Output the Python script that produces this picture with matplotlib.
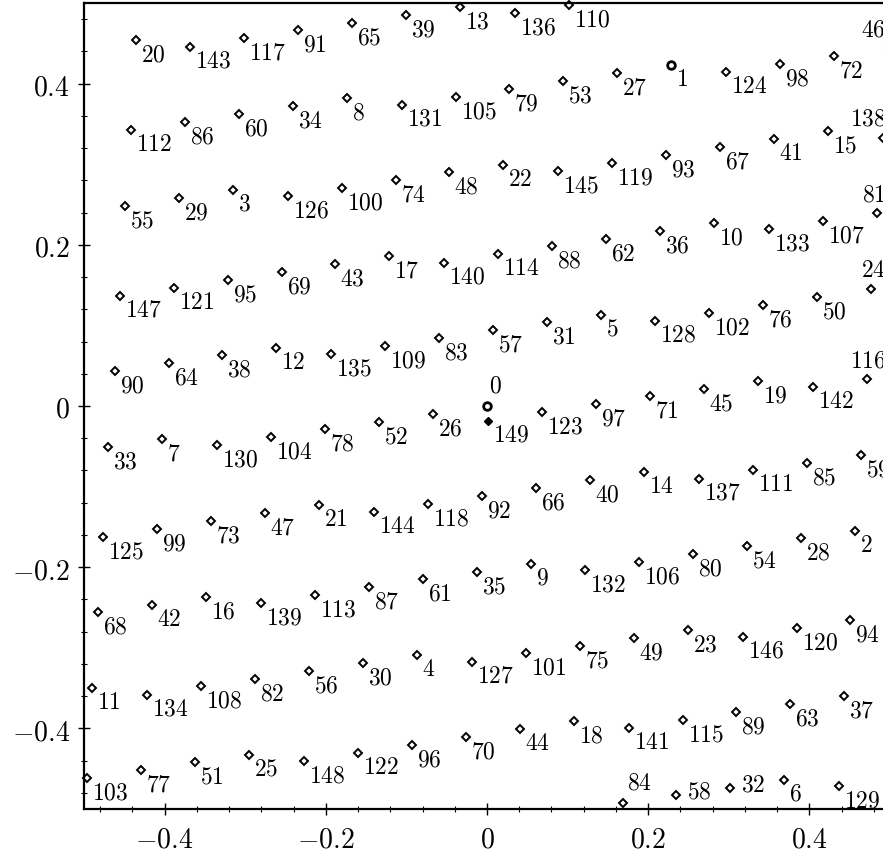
import matplotlib
matplotlib.use("Agg")
import matplotlib.pyplot as plt
from matplotlib.ticker import MultipleLocator

plt.rcParams["mathtext.fontset"] = "cm"

# point coordinates, index = point label
xs = [0.0, 0.228, 0.456, -0.315, -0.087, 0.141, 0.369, -0.403, -0.174, 0.054,
      0.282, -0.490, -0.262, -0.033, 0.195, 0.423, -0.349, -0.121, 0.108, 0.336,
      -0.436, -0.208, 0.020, 0.249, 0.477, -0.295, -0.067, 0.161, 0.390, -0.382,
      -0.154, 0.074, 0.302, -0.470, -0.241, -0.013, 0.215, 0.443, -0.329, -0.100,
      0.128, 0.356, -0.416, -0.188, 0.041, 0.269, 0.497, -0.275, -0.047, 0.182,
      0.410, -0.362, -0.134, 0.094, 0.323, -0.449, -0.221, 0.007, 0.235, 0.464,
      -0.308, -0.080, 0.148, 0.376, -0.395, -0.167, 0.061, 0.289, -0.483, -0.254,
      -0.026, 0.202, 0.430, -0.342, -0.113, 0.115, 0.343, -0.429, -0.201, 0.027,
      0.256, 0.484, -0.288, -0.060, 0.169, 0.397, -0.375, -0.147, 0.081, 0.309,
      -0.462, -0.234, -0.006, 0.222, 0.450, -0.321, -0.093, 0.135, 0.363, -0.409,
      -0.180, 0.048, 0.276, -0.496, -0.268, -0.039, 0.189, 0.417, -0.355, -0.127,
      0.102, 0.330, -0.442, -0.214, 0.014, 0.243, 0.471, -0.301, -0.073, 0.155,
      0.384, -0.388, -0.160, 0.068, 0.296, -0.476, -0.247, -0.019, 0.209, 0.437,
      -0.335, -0.106, 0.122, 0.350, -0.422, -0.194, 0.035, 0.263, 0.491, -0.281,
      -0.053, 0.176, 0.404, -0.368, -0.140, 0.088, 0.317, -0.455, -0.227, 0.001]

ys = [0.0, 0.423, -0.155, 0.268, -0.309, 0.113, -0.464, -0.041, 0.382, -0.196,
      0.227, -0.350, 0.072, 0.495, -0.082, 0.341, -0.237, 0.186, -0.391, 0.031,
      0.454, -0.123, 0.299, -0.278, 0.145, -0.433, -0.010, 0.413, -0.164, 0.258,
      -0.319, 0.104, -0.474, -0.051, 0.372, -0.206, 0.217, -0.360, 0.063, 0.485,
      -0.092, 0.331, -0.247, 0.176, -0.401, 0.021, 0.444, -0.133, 0.290, -0.288,
      0.135, -0.442, -0.020, 0.403, -0.174, 0.248, -0.329, 0.094, -0.483, -0.061,
      0.362, -0.215, 0.207, -0.370, 0.053, 0.475, -0.102, 0.321, -0.256, 0.166,
      -0.411, 0.012, 0.434, -0.143, 0.280, -0.298, 0.125, -0.452, -0.029, 0.393,
      -0.184, 0.239, -0.339, 0.084, -0.493, -0.071, 0.352, -0.225, 0.198, -0.380,
      0.043, 0.466, -0.112, 0.311, -0.266, 0.156, -0.421, 0.002, 0.424, -0.153,
      0.270, -0.307, 0.115, -0.462, -0.039, 0.383, -0.194, 0.229, -0.348, 0.074,
      0.497, -0.080, 0.342, -0.235, 0.188, -0.390, 0.033, 0.456, -0.122, 0.301,
      -0.276, 0.147, -0.431, -0.008, 0.415, -0.163, 0.260, -0.317, 0.106, -0.472,
      -0.049, 0.374, -0.204, 0.219, -0.358, 0.064, 0.487, -0.090, 0.333, -0.245,
      0.178, -0.399, 0.023, 0.446, -0.131, 0.291, -0.286, 0.137, -0.441, -0.018]

labels = list(range(len(xs)))
circle_pts = [0, 1]
filled_pts = [149]
edge_labels = [46, 138, 81, 24, 116]   # labels pushed left, above the point

tick_vals = [-0.4, -0.2, 0, 0.2, 0.4]
tick_text = [r"$-0.4$", r"$-0.2$", r"$0$", r"$0.2$", r"$0.4$"]

fig = plt.figure(figsize=(8.83, 8.54), dpi=100)
ax = fig.add_axes([84 / 883, 44 / 854, 806 / 883, 806 / 854])
ax.set_xlim(-0.5, 0.5)
ax.set_ylim(-0.5, 0.5)

diamond = [i for i in labels if i not in circle_pts and i not in filled_pts]
ax.plot([xs[i] for i in diamond], [ys[i] for i in diamond], "D", ms=3.8,
        mfc="white", mec="black", mew=1.4, clip_on=False)
ax.plot([xs[i] for i in circle_pts], [ys[i] for i in circle_pts], "o", ms=5.5,
        mfc="white", mec="black", mew=2.0)
ax.plot([xs[i] for i in filled_pts], [ys[i] for i in filled_pts], "D", ms=4.5,
        mfc="black", mec="black")

fs = 17
for i in labels:
    s = r"$%d$" % i
    if i == 0:
        ax.annotate(s, (xs[i], ys[i]), xytext=(2, 9), textcoords="offset pixels",
                    ha="left", va="bottom", fontsize=fs)
    elif i == 84:
        ax.annotate(s, (xs[i], ys[i]), xytext=(4, 10), textcoords="offset pixels",
                    ha="left", va="bottom", fontsize=fs)
    elif i in (58, 32):
        ax.annotate(s, (xs[i], ys[i]), xytext=(11, 5), textcoords="offset pixels",
                    ha="left", va="center", fontsize=fs)
    elif i in edge_labels:
        ax.annotate(s, (0.495, ys[i]), xytext=(0, 8), textcoords="offset pixels",
                    ha="right", va="bottom", fontsize=fs, annotation_clip=False)
    else:
        ax.annotate(s, (xs[i], ys[i]), xytext=(5, -1), textcoords="offset pixels",
                    ha="left", va="top", fontsize=fs, annotation_clip=False)

ax.set_xticks(tick_vals)
ax.set_xticklabels(tick_text, fontsize=20)
ax.set_yticks(tick_vals)
ax.set_yticklabels(tick_text, fontsize=20)
ax.xaxis.set_minor_locator(MultipleLocator(0.04))
ax.yaxis.set_minor_locator(MultipleLocator(0.04))
ax.tick_params(which="major", direction="inout", length=8, width=1.0)
ax.tick_params(axis="x", which="major", pad=7)
ax.tick_params(axis="y", which="major", pad=6)
ax.tick_params(which="minor", direction="inout", length=5, width=0.8)
ax.tick_params(top=False, right=False, which="both")
for side in ["left", "bottom", "top", "right"]:
    ax.spines[side].set_linewidth(1.6)

fig.savefig("out.png", dpi=100)
